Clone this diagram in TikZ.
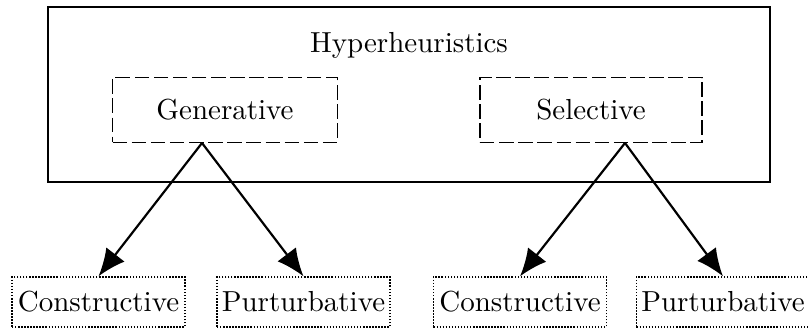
\documentclass[tikz,border=0pt]{standalone}
\usetikzlibrary{arrows.meta}
\begin{document}
\begin{tikzpicture}[x=0.345pt,y=-0.345pt,
  outerbox/.style={draw,line width=0.65pt},
  dashbox/.style={draw,line width=0.6pt,dash pattern=on 5pt off 1.6pt,minimum height=22.4pt,inner sep=0pt},
  leafbox/.style={draw,line width=0.5pt,dash pattern=on 0.5pt off 0.55pt,minimum width=59.7pt,minimum height=17.2pt,inner sep=0pt},
  arr/.style={line width=0.75pt,-{Latex[length=9.5pt,width=8pt]}}]
\useasboundingbox (0,0) rectangle (809,329);
\draw[outerbox] (48,7) rectangle (770,182);
\node (hyp) at (409,45) {Hyperheuristics};
\node[dashbox,minimum width=77.6pt] (gen) at (225,110) {Generative};
\node[dashbox,minimum width=76.6pt] (sel) at (591,110) {Selective};
\coordinate (g) at (202,143);
\coordinate (s) at (625,143);
\node[leafbox] (c1) at (98.5,302) {Constructive};
\node[leafbox] (p1) at (303.5,302) {Purturbative};
\node[leafbox] (c2) at (520,302) {Constructive};
\node[leafbox] (p2) at (723,302) {Purturbative};
\draw[arr] (g) -- (c1.north);
\draw[arr] (g) -- (p1.north);
\draw[arr] (s) -- (c2.north);
\draw[arr] (s) -- (p2.north);
\end{tikzpicture}
\end{document}
